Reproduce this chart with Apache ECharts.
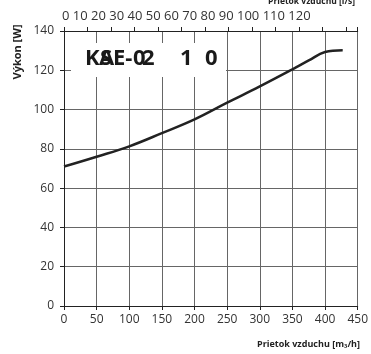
<!DOCTYPE html>
<html><head><meta charset="utf-8">
<script src="https://cdn.jsdelivr.net/npm/echarts@6/dist/echarts.min.js"></script>
<style>html,body{margin:0;padding:0;background:#fff}#c{width:371px;height:354px}</style>
</head><body><div id="c"></div>
<script>
// Data
const airflow = [0, 50, 100, 150, 200, 250, 300, 350, 375, 400, 427];
const power   = [71, 76, 81.3, 88, 95, 103.5, 111.8, 120.5, 125, 129.3, 130.2];
const topTickLabels = [0, 10, 20, 30, 40, 50, 60, 70, 80, 90, 100, 110, 120];
const yTitle = 'Výkon [W]';
const xTitle = 'Prietok vzduchu [m₃/h]';
const x2Title = 'Prietok vzduchu [l/s]';

const FONT = '"Open Sans", "Noto Sans", sans-serif';
const chart = echarts.init(document.getElementById('c'), null, {renderer: 'canvas'});

const titleGlyphs = [
  {t: 'K', x: 85}, {t: 'S', x: 100}, {t: 'A', x: 99}, {t: 'E-', x: 113},
  {t: '0', x: 133}, {t: '2', x: 142}, {t: '1', x: 180}, {t: '0', x: 205}
];

const graphics = [
  {type: 'rect', shape: {x: 71, y: 43, width: 155, height: 34}, style: {fill: '#fff'}, z: 5},
  {type: 'text', x: 62, y: 16, style: {text: topTickLabels.join(' '), font: '13px ' + FONT, fill: '#333', verticalAlign: 'middle'}, z: 6},
  {type: 'text', x: 355, y: 2, style: {text: x2Title, font: 'bold 8.5px ' + FONT, fill: '#222', align: 'right', verticalAlign: 'middle'}, z: 6},
  {type: 'text', x: 360, y: 344, style: {text: xTitle, font: 'bold 9px ' + FONT, fill: '#222', align: 'right', verticalAlign: 'middle'}, z: 6},
  {type: 'text', x: 18, y: 52, rotation: Math.PI / 2, style: {text: yTitle, font: 'bold 11px ' + FONT, fill: '#222', align: 'center', verticalAlign: 'middle'}, z: 6}
];
titleGlyphs.forEach(g => graphics.push({
  type: 'text', x: g.x, y: 59,
  style: {text: g.t, font: 'bold 22px ' + FONT, fill: '#1a1a1a', verticalAlign: 'middle'}, z: 7
}));

chart.setOption({
  animation: false,
  backgroundColor: '#fff',
  grid: {left: 64, right: 12, top: 31, bottom: 48, containLabel: false},
  xAxis: [
    {
      type: 'value', min: 0, max: 450, interval: 50, position: 'bottom',
      axisLine: {show: true, lineStyle: {color: '#222', width: 1}},
      axisTick: {show: true, length: 4, lineStyle: {color: '#222'}},
      axisLabel: {fontSize: 12, color: '#333', margin: 8, fontFamily: FONT},
      splitLine: {show: true, lineStyle: {color: '#666', width: 1}}
    },
    {
      type: 'value', min: 0, max: 125, interval: 10, position: 'top',
      axisLine: {show: true, onZero: false, lineStyle: {color: '#222', width: 1}},
      axisTick: {show: true, length: 4, lineStyle: {color: '#222'}},
      axisLabel: {show: false},
      splitLine: {show: false}
    }
  ],
  yAxis: {
    type: 'value', min: 0, max: 140, interval: 20,
    axisLine: {show: true, lineStyle: {color: '#222', width: 1}},
    axisTick: {show: true, length: 4, lineStyle: {color: '#222'}},
    axisLabel: {fontSize: 12, color: '#333', margin: 10, fontFamily: FONT},
    splitLine: {show: true, lineStyle: {color: '#666', width: 1}}
  },
  series: [{
    type: 'line', xAxisIndex: 0, smooth: 0.4, showSymbol: false,
    lineStyle: {color: '#222', width: 2.5},
    data: airflow.map((x, i) => [x, power[i]]),
    z: 3
  }],
  graphic: graphics
});
</script></body></html>
